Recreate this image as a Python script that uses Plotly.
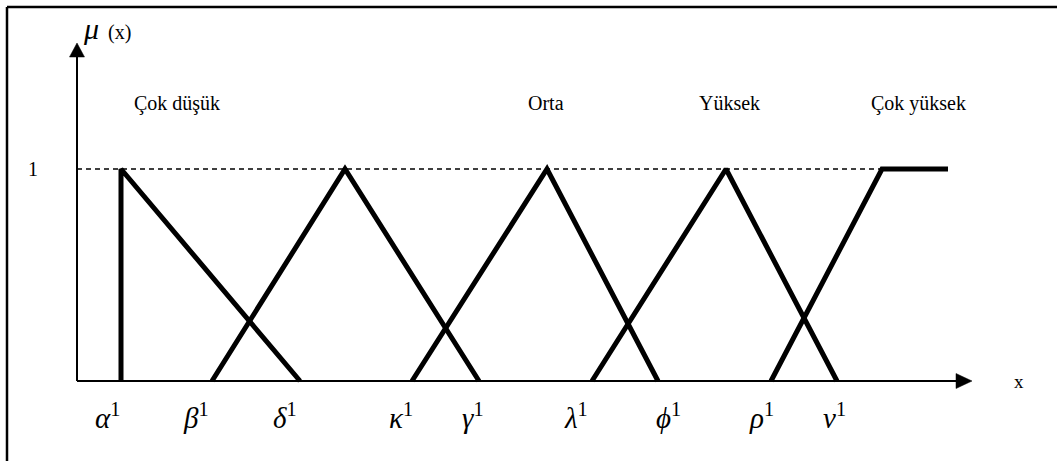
import plotly.graph_objects as go

# ---- data (x in diagram units, y = membership degree) ----
cok_dusuk_x = [44, 44, 223]
cok_dusuk_y = [0, 1, 0]
set2_x = [135, 268, 402]
set2_y = [0, 1, 0]
orta_x = [335, 470, 581]
orta_y = [0, 1, 0]
yuksek_x = [515, 649, 760]
yuksek_y = [0, 1, 0]
cok_yuksek_x = [694, 805, 871]
cok_yuksek_y = [0, 1, 1]

set_label_x = [100, 469, 652, 841]
set_label_text = ["Çok düşük", "Orta", "Yüksek", "Çok yüksek"]

param_labels = ["α", "β", "δ", "κ", "γ", "λ", "ϕ", "ρ", "ν"]
param_x = [30, 119, 208, 324, 396, 499, 591, 684, 757]

FONT = "'Liberation Serif', 'Times New Roman', serif"
fig = go.Figure()

series = [(cok_dusuk_x, cok_dusuk_y), (set2_x, set2_y), (orta_x, orta_y),
          (yuksek_x, yuksek_y), (cok_yuksek_x, cok_yuksek_y)]
for xs, ys in series:
    fig.add_trace(go.Scatter(x=xs, y=ys, mode="lines",
                             line=dict(color="black", width=5),
                             hoverinfo="skip", showlegend=False))

XMAX = 895          # x-axis arrow tip
YMAX = 338 / 212    # y-axis arrow tip
PX_Y = 1 / 212      # data units per pixel (y)

shapes = []
shapes.append(dict(type="line", x0=-70, x1=1200, y0=1.764, y1=1.764,
                   line=dict(color="black", width=2.5)))
shapes.append(dict(type="line", x0=-70, x1=-70, y0=1.764, y1=-1,
                   line=dict(color="black", width=2.5)))
shapes.append(dict(type="line", x0=0, x1=XMAX - 14, y0=0, y1=0,
                   line=dict(color="black", width=2)))
shapes.append(dict(type="line", x0=0, x1=0, y0=0, y1=YMAX - 12 * PX_Y,
                   line=dict(color="black", width=2)))
shapes.append(dict(type="path",
                   path=f"M {XMAX} 0 L {XMAX-16} {7.5*PX_Y} L {XMAX-16} {-7.5*PX_Y} Z",
                   fillcolor="black", line=dict(color="black", width=0.5)))
shapes.append(dict(type="path",
                   path=f"M 0 {YMAX} L {-7.5} {YMAX-14*PX_Y} L {7.5} {YMAX-14*PX_Y} Z",
                   fillcolor="black", line=dict(color="black", width=0.5)))
shapes.append(dict(type="line", x0=0, x1=cok_yuksek_x[1], y0=1, y1=1,
                   line=dict(color="black", width=1.5, dash="5px,4px"), layer="below"))

annotations = []
for x, t in zip(set_label_x, set_label_text):
    annotations.append(dict(x=x, y=1.31, text=t, showarrow=False,
                            font=dict(family=FONT, size=20, color="black")))
annotations.append(dict(x=-44, y=1.0, text="1", showarrow=False,
                        font=dict(family=FONT, size=20, color="black")))
annotations.append(dict(x=14, y=1.665, text="<i>μ</i>", showarrow=False,
                        font=dict(family=FONT, size=30, color="black")))
annotations.append(dict(x=42, y=1.645, text="(x)", showarrow=False,
                        font=dict(family=FONT, size=20, color="black")))
annotations.append(dict(x=942, y=0, text="x", showarrow=False,
                        font=dict(family=FONT, size=19, color="black")))
for x, g in zip(param_x, param_labels):
    annotations.append(dict(x=x, y=-(416 - 381) * PX_Y, text=f"<i>{g}</i><sup>1</sup>",
                            showarrow=False,
                            font=dict(family=FONT, size=29, color="black")))

fig.update_layout(
    width=1057, height=461,
    margin=dict(l=0, r=0, t=0, b=0),
    paper_bgcolor="white", plot_bgcolor="white",
    xaxis=dict(range=[-77, 980], visible=False, fixedrange=True),
    yaxis=dict(range=[-80 / 212, 381 / 212], visible=False, fixedrange=True),
    shapes=shapes, annotations=annotations,
)
fig.write_html("out.html", config={"displayModeBar": False},
               post_script="document.body.style.margin='0';document.body.style.overflow='hidden';")
